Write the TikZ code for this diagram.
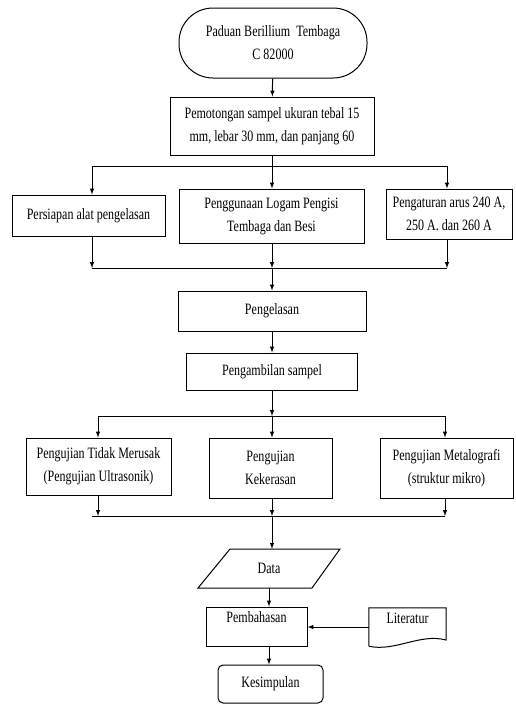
\documentclass[tikz,border=0pt]{standalone}
\usepackage{fontspec}
\setmainfont{Liberation Serif}[FakeStretch=0.76]
\usetikzlibrary{arrows}

\begin{document}
\begin{tikzpicture}[x = 1pt, y = -1pt, font=\fontsize{15.8}{23}\selectfont, >=latex]
\tikzstyle{BoxStyle} = [shape = rectangle, draw, line width = 1pt, align = center, inner sep = 2pt]
\tikzstyle{TermStyle} = [BoxStyle, rounded corners = 34pt]
\tikzstyle{RoundStyle} = [BoxStyle, rounded corners = 5pt]
\tikzstyle{PlainStyle} = [shape = rectangle, align = center, inner sep = 2pt]
\tikzstyle{TopText} = [text depth = 18pt]
\tikzstyle{LineStyle} = [line width = 1pt]
\tikzstyle{ArrowStyle} = [line width = 1pt, ->]
\useasboundingbox (0,0) rectangle (515,705);
\node[TermStyle, minimum width = 188pt, minimum height = 70pt] (v0) at (273,43) {Paduan Berillium~~Tembaga\\C 82000};
\node[BoxStyle, minimum width = 204pt, minimum height = 58pt] (v1) at (272,126) {Pemotongan sampel ukuran tebal 15\\mm, lebar 30 mm, dan panjang 60};
\node[BoxStyle, minimum width = 153pt, minimum height = 41pt] (v2) at (88.5,215.5) {Persiapan alat pengelasan};
\node[BoxStyle, minimum width = 185pt, minimum height = 54pt] (v3) at (271.5,216) {Penggunaan Logam Pengisi\\Tembaga dan Besi};
\node[BoxStyle, minimum width = 126pt, minimum height = 50pt] (v4) at (449,214) {Pengaturan arus 240 A,\\250 A. dan 260 A};
\node[BoxStyle, minimum width = 188pt, minimum height = 40pt] (v5) at (272,311) {Pengelasan};
\node[BoxStyle, minimum width = 171pt, minimum height = 37pt] (v6) at (272,371.5) {Pengambilan sampel};
\node[BoxStyle, minimum width = 145pt, minimum height = 57pt] (v7) at (98.5,466.5) {Pengujian Tidak Merusak\\(Pengujian Ultrasonik)};
\node[BoxStyle, minimum width = 123pt, minimum height = 60pt] (v8) at (270.5,468) {Pengujian\\Kekerasan};
\node[BoxStyle, minimum width = 133pt, minimum height = 60pt] (v9) at (446.5,468) {Pengujian Metalografi\\(struktur mikro)};
\node[PlainStyle, minimum width = 80pt, minimum height = 39pt] (v10) at (269,568.5) {Data};
\node[BoxStyle, TopText, minimum width = 101pt, minimum height = 39pt] (v11) at (256.5,626.5) {Pembahasan};
\node[PlainStyle, TopText, minimum width = 77pt, minimum height = 38pt] (v12) at (407.5,627) {Literatur};
\node[RoundStyle, minimum width = 105pt, minimum height = 38pt] (v13) at (270.5,684) {Kesimpulan};
\draw[LineStyle] (230,549) -- (340,549) -- (312,588) -- (198,588) -- cycle;
\draw[LineStyle] (v12.south west) -- (v12.north west) -- (v12.north east) -- (446,640)
  .. controls (420,633) and (395,652) .. (v12.south west);
\coordinate (j1l) at (92,166);
\coordinate (j1) at (272,166);
\coordinate (j1r) at (447,166);
\coordinate (j2l) at (92,268);
\coordinate (j2) at (272,268);
\coordinate (j2r) at (447,268);
\coordinate (j3l) at (98,416);
\coordinate (j3) at (272,416);
\coordinate (j3r) at (445,416);
\coordinate (j4e) at (92,516);
\coordinate (j4l) at (98,516);
\coordinate (j4) at (272,516);
\coordinate (j4r) at (445,516);
\draw[ArrowStyle] (v0) -- (v1);
\draw[LineStyle] (v1) -- (j1);
\draw[LineStyle] (j1l) -- (j1r);
\draw[ArrowStyle] (j1l) -- (j1l |- v2.north);
\draw[ArrowStyle] (j1) -- (j1 |- v3.north);
\draw[ArrowStyle] (j1r) -- (j1r |- v4.north);
\draw[ArrowStyle] (j2l |- v2.south) -- (j2l);
\draw[ArrowStyle] (j2 |- v3.south) -- (j2);
\draw[ArrowStyle] (j2r |- v4.south) -- (j2r);
\draw[LineStyle] (j2l) -- (j2r);
\draw[ArrowStyle] (j2) -- (v5);
\draw[ArrowStyle] (v5) -- (v6);
\draw[ArrowStyle] (v6) -- (j3);
\draw[LineStyle] (j3l) -- (j3r);
\draw[ArrowStyle] (j3l) -- (j3l |- v7.north);
\draw[ArrowStyle] (j3) -- (j3 |- v8.north);
\draw[ArrowStyle] (j3r) -- (j3r |- v9.north);
\draw[ArrowStyle] (j4l |- v7.south) -- (j4l);
\draw[ArrowStyle] (j4 |- v8.south) -- (j4);
\draw[ArrowStyle] (j4r |- v9.south) -- (j4r);
\draw[LineStyle] (j4e) -- (j4r);
\draw[ArrowStyle] (j4) -- (j4 |- v10.north);
\draw[ArrowStyle] (v10.south) -- (v10.south |- v11.north);
\draw[ArrowStyle] (v12.west) -- (v12.west -| v11.east);
\draw[ArrowStyle] (v10.south |- v11.south) -- (v10.south |- v13.north);
\end{tikzpicture}
\end{document}
